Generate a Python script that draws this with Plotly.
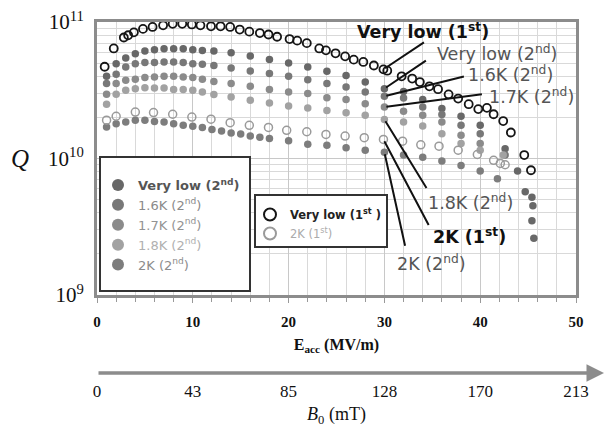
import numpy as np
import plotly.graph_objects as go

# ---------------- data ----------------
# Very low T, 1st test (open black)
vl1_E = [0.8, 1.75, 2.8, 3.25, 3.85, 4.8, 5.8, 6.9, 7.9, 8.9, 9.9, 10.8, 11.9, 12.9, 13.9, 14.9,
         15.9, 17.0, 17.9, 18.8, 20.1, 20.9, 21.9, 23.2, 23.9, 24.9, 25.9, 26.8, 27.8, 28.9, 29.9,
         30.3, 31.8, 32.9, 33.7, 34.7, 35.6, 36.7, 37.7, 38.8, 39.8, 40.7, 41.4, 42.4, 43.2, 44.6, 45.3]
vl1_Q = [4.7e10, 6.4e10, 7.7e10, 8.0e10, 8.4e10, 8.9e10, 9.2e10, 9.45e10, 9.7e10, 9.7e10, 9.6e10, 9.45e10,
         9.3e10, 9.3e10, 9.2e10, 8.8e10, 8.5e10, 8.3e10, 8.1e10, 7.8e10, 7.5e10, 7.3e10, 7.0e10, 6.4e10,
         6.2e10, 5.9e10, 5.6e10, 5.3e10, 5.1e10, 4.8e10, 4.5e10, 4.4e10, 4.0e10, 3.85e10, 3.63e10, 3.38e10,
         3.22e10, 2.95e10, 2.75e10, 2.5e10, 2.3e10, 2.35e10, 2.11e10, 1.88e10, 1.55e10, 1.06e10, 8.2e9]

# 2 K, 1st test (open grey)
k2a_E = [1.0, 2.0, 4.0, 5.9, 7.9, 9.9, 11.9, 13.9, 15.9, 17.9, 19.8, 21.9, 23.9, 25.9, 27.9, 29.9,
         31.9, 33.8, 35.7, 37.7, 39.7, 41.4, 42.1, 42.6]
k2a_Q = [1.91e10, 2.04e10, 2.19e10, 2.17e10, 2.11e10, 2.01e10, 1.94e10, 1.83e10, 1.75e10, 1.69e10, 1.61e10,
         1.57e10, 1.50e10, 1.46e10, 1.42e10, 1.38e10, 1.34e10, 1.26e10, 1.23e10, 1.15e10, 1.07e10, 9.7e9,
         9.2e9, 9.0e9]

# Very low T, 2nd test
vl2_E = [1, 2, 3, 4, 5, 6, 7, 8, 9, 10, 11, 12.2, 14, 16, 18, 20, 22, 24, 26, 28, 30, 32, 34, 36, 38, 40,
         42.6, 43.9, 44.7, 45.4, 45.5, 45.4, 45.6]
vl2_Q = [4.0e10, 4.95e10, 5.45e10, 5.86e10, 6.12e10, 6.27e10, 6.38e10, 6.38e10, 6.38e10, 6.27e10, 6.19e10,
         6.12e10, 5.96e10, 5.64e10, 5.32e10, 5.0e10, 4.68e10, 4.36e10, 4.06e10, 3.63e10, 3.25e10, 3.1e10,
         2.7e10, 2.32e10, 2.04e10, 1.75e10, 1.18e10, 8.1e9, 5.7e9, 5.2e9, 4.5e9, 3.5e9, 2.6e9]

# 1.6 K, 2nd test
k16_E = [1, 2, 3, 4, 5, 6, 7, 8, 9, 10, 11, 12.2, 14, 16, 18, 20, 22, 24, 26, 28, 30, 32, 34, 36, 38, 40, 42.6]
k16_Q = [3.54e10, 4.14e10, 4.68e10, 4.95e10, 5.04e10, 5.04e10, 5.09e10, 5.09e10, 5.04e10, 4.95e10, 4.9e10,
         4.81e10, 4.6e10, 4.38e10, 4.19e10, 4.0e10, 3.78e10, 3.54e10, 3.34e10, 3.07e10, 2.86e10, 2.77e10,
         2.38e10, 2.1e10, 1.75e10, 1.52e10, 1.06e10]

# 1.7 K, 2nd test
k17_E = [1, 2, 3, 4, 5, 6, 7, 8, 9, 10, 11, 12.2, 14, 16, 18, 20, 22, 24, 26, 28, 30, 32, 34, 36, 38, 40]
k17_Q = [2.95e10, 3.54e10, 3.74e10, 3.8e10, 3.92e10, 3.95e10, 4.0e10, 4.0e10, 3.95e10, 3.92e10, 3.8e10,
         3.67e10, 3.54e10, 3.38e10, 3.2e10, 3.07e10, 2.99e10, 2.79e10, 2.7e10, 2.52e10, 2.38e10, 2.22e10,
         2.07e10, 1.85e10, 1.48e10, 1.29e10]

# 1.8 K, 2nd test
k18_E = [1, 2, 3, 4, 5, 6, 7, 8, 9, 10, 11, 12.2, 14, 16, 18, 20, 22, 24, 26, 28, 30, 32, 34, 36, 38, 40, 42.4]
k18_Q = [2.5e10, 2.95e10, 3.16e10, 3.25e10, 3.3e10, 3.29e10, 3.29e10, 3.2e10, 3.2e10, 3.16e10, 3.07e10,
         2.94e10, 2.82e10, 2.67e10, 2.55e10, 2.42e10, 2.34e10, 2.25e10, 2.16e10, 2.07e10, 1.93e10, 1.85e10,
         1.73e10, 1.52e10, 1.29e10, 1.15e10, 1.06e10]

# 2 K, 2nd test
k2b_E = [1, 2, 3, 4, 5, 6, 7, 8, 9, 10, 11, 12, 13, 14, 15, 16, 17, 18, 20, 22, 24, 26, 28, 30, 32, 34,
         36, 38, 40, 41.8]
k2b_Q = [1.7e10, 1.8e10, 1.85e10, 1.91e10, 1.91e10, 1.87e10, 1.85e10, 1.8e10, 1.75e10, 1.72e10, 1.69e10,
         1.63e10, 1.59e10, 1.54e10, 1.51e10, 1.46e10, 1.43e10, 1.4e10, 1.35e10, 1.27e10, 1.25e10, 1.2e10,
         1.15e10, 1.11e10, 1.06e10, 1.02e10, 9.6e9, 8.9e9, 8.1e9, 7.1e9]

x_ticks = [0, 10, 20, 30, 40, 50]
b0_labels = ["0", "43", "85", "128", "170", "213"]
y_ticks = [1e9, 1e10, 1e11]
y_labels = ["10<sup>9</sup>", "10<sup>10</sup>", "10<sup>11</sup>"]

# ---------------- layout geometry helpers ----------------
W, H = 606, 427
ML, MR, MT, MB = 97, 30, 22, 53
PW, PH = W - ML - MR, H - MT - MB
PLOT_BOTTOM = 295


def px(x):
    return (x - ML) / PW


def py(y):
    return (H - MB - y) / PH


SANS = "DejaVu Sans"
SERIF = "Liberation Serif"

fig = go.Figure()

filled = [
    (vl2_E, vl2_Q, "#686868", "<b><span style='color:#555555'>Very low (2<sup>nd</sup>)</span></b>"),
    (k16_E, k16_Q, "#787878", "<span style='color:#8a8a8a'>1.6K (2<sup>nd</sup>)</span>"),
    (k17_E, k17_Q, "#8b8b8b", "<span style='color:#939393'>1.7K (2<sup>nd</sup>)</span>"),
    (k18_E, k18_Q, "#a2a2a2", "<span style='color:#b0b0b0'>1.8K (2<sup>nd</sup>)</span>"),
    (k2b_E, k2b_Q, "#7d7d7d", "<span style='color:#8c8c8c'>2K (2<sup>nd</sup>)</span>"),
]
for E, Q, col, name in filled:
    fig.add_trace(go.Scatter(x=E, y=Q, mode="markers", name=name, legend="legend",
                             marker=dict(symbol="circle", size=7.5, color=col, line=dict(width=0))))

fig.add_trace(go.Scatter(x=vl1_E, y=vl1_Q, mode="markers", legend="legend2",
                         name="<b><span style='color:#222222'>Very low (1<sup>st</sup> )</span></b>",
                         marker=dict(symbol="circle-open", size=8, color="#151515", line=dict(width=1.8))))
fig.add_trace(go.Scatter(x=k2a_E, y=k2a_Q, mode="markers", legend="legend2",
                         name="<span style='color:#ababab'>2K (1<sup>st</sup>)</span>",
                         marker=dict(symbol="circle-open", size=8, color="#9a9a9a", line=dict(width=1.5))))

# invisible trace carrying the B0 axis
fig.add_trace(go.Scatter(x=[x_ticks[0], x_ticks[-1]], y=[1e10, 1e10], xaxis="x2", yaxis="y",
                         mode="markers", marker=dict(opacity=0), showlegend=False, hoverinfo="skip"))

# legend boxes
for (x0, y0, x1, y1) in [(100, 157, 250, 291), (255, 195, 387, 247)]:
    fig.add_shape(type="rect", xref="paper", yref="paper", x0=px(x0), x1=px(x1), y0=py(y1), y1=py(y0),
                  line=dict(color="#333333", width=2), fillcolor="white", layer="above")

# B0 arrow
fig.add_annotation(xref="paper", yref="paper", x=px(604), y=py(373), ax=-(604 - 97), ay=0,
                   text="", showarrow=True, arrowhead=2, arrowsize=1, arrowwidth=3.5,
                   arrowcolor="#8c8c8c", standoff=0)

# leader lines (head at a data point at ~30 MV/m, tail offset in pixels)
leaders = [
    (vl1_E, vl1_Q, vl1_E.index(29.9), 42, -28),
    (vl2_E, vl2_Q, vl2_E.index(30), 43, -29),
    (k16_E, k16_Q, k16_E.index(30), 81, -20),
    (k17_E, k17_Q, k17_E.index(30), 99, -13),
    (k18_E, k18_Q, k18_E.index(30), 43, 70),
    (k2a_E, k2a_Q, k2a_E.index(29.9), 46, 87),
    (k2b_E, k2b_Q, k2b_E.index(30), 21, 95),
]
for E, Q, i, ax, ay in leaders:
    fig.add_annotation(xref="x", yref="y", x=E[i], y=np.log10(Q[i]), ax=ax, ay=ay, text="",
                       showarrow=True, arrowhead=0, arrowwidth=2, arrowcolor="#111111", standoff=2)

labels = [
    ("<b>Very low (1<sup>st</sup>)</b>", 355, 31, "#111111"),
    ("Very low (2<sup>nd</sup>)", 435, 53, "#555555"),
    ("1.6K (2<sup>nd</sup>)", 466, 74, "#555555"),
    ("1.7K (2<sup>nd</sup>)", 487, 96, "#555555"),
    ("1.8K (2<sup>nd</sup>)", 426, 202, "#555555"),
    ("<b>2K (1<sup>st</sup>)</b>", 431, 236, "#111111"),
    ("2K (2<sup>nd</sup>)", 395, 263, "#555555"),
]
for txt, lx, ly, col in labels:
    fig.add_annotation(xref="paper", yref="paper", x=px(lx), y=py(ly), xanchor="left", yanchor="middle",
                       text=txt, showarrow=False, font=dict(family=SANS, size=17.5, color=col))

# Q label
fig.add_annotation(xref="paper", yref="paper", x=px(9), y=py(158), text="<i>Q</i>", showarrow=False,
                   font=dict(family=SERIF, size=25, color="#111111"))

fig.update_layout(
    width=W, height=H,
    margin=dict(l=ML, r=MR, t=MT, b=MB, autoexpand=False),
    paper_bgcolor="white", plot_bgcolor="white",
    showlegend=True,
    xaxis=dict(
        range=[0, 50], tickvals=x_ticks, ticktext=[f"<b>{v}</b>" for v in x_ticks],
        showgrid=True, gridcolor="#c8c8c8", gridwidth=1,
        minor=dict(dtick=2, showgrid=True, gridcolor="#d9d9d9", ticks="outside", ticklen=4,
                   tickcolor="#999999"),
        ticks="outside", ticklen=5, tickcolor="#999999",
        showline=True, linecolor="#8c8c8c", linewidth=3, mirror=True,
        zeroline=False, anchor="y", automargin=False,
        tickfont=dict(family=SERIF, size=15, color="#111111"), ticklabelstandoff=6,
        title=dict(text="<b>E<sub>acc</sub> (MV/m)</b>", font=dict(family=SERIF, size=16, color="#111111"),
                   standoff=10),
    ),
    xaxis2=dict(
        range=[0, 50], overlaying="x", anchor="free", position=0, side="bottom", automargin=False,
        tickvals=x_ticks, ticktext=b0_labels, showgrid=False, showline=False, zeroline=False, ticks="",
        tickfont=dict(family=SERIF, size=17, color="#111111"), ticklabelstandoff=5,
        title=dict(text="<i>B</i><sub>0</sub> (mT)", font=dict(family=SERIF, size=18, color="#111111"),
                   standoff=31),
    ),
    yaxis=dict(
        type="log", range=[9, 11], domain=[py(PLOT_BOTTOM), 1], automargin=False,
        tickvals=y_ticks, ticktext=y_labels,
        showgrid=True, gridcolor="#c8c8c8", gridwidth=1,
        minor=dict(dtick="D1", showgrid=True, gridcolor="#d9d9d9"),
        showline=True, linecolor="#8c8c8c", linewidth=3, mirror=True, zeroline=False,
        ticks="", tickfont=dict(family=SERIF, size=21, color="#111111"), ticklabelstandoff=6,
    ),
    legend=dict(x=px(98), y=py(170), xanchor="left", yanchor="top", bgcolor="rgba(0,0,0,0)",
                borderwidth=0, itemsizing="constant", itemwidth=30, traceorder="normal",
                font=dict(family=SANS, size=13, color="#555555")),
    legend2=dict(x=px(250), y=py(200), xanchor="left", yanchor="top", bgcolor="rgba(0,0,0,0)",
                 borderwidth=0, itemsizing="constant", itemwidth=30, traceorder="normal",
                 font=dict(family=SANS, size=11.5, color="#222222"), tracegroupgap=0),
)

fig.write_html("out.html")
